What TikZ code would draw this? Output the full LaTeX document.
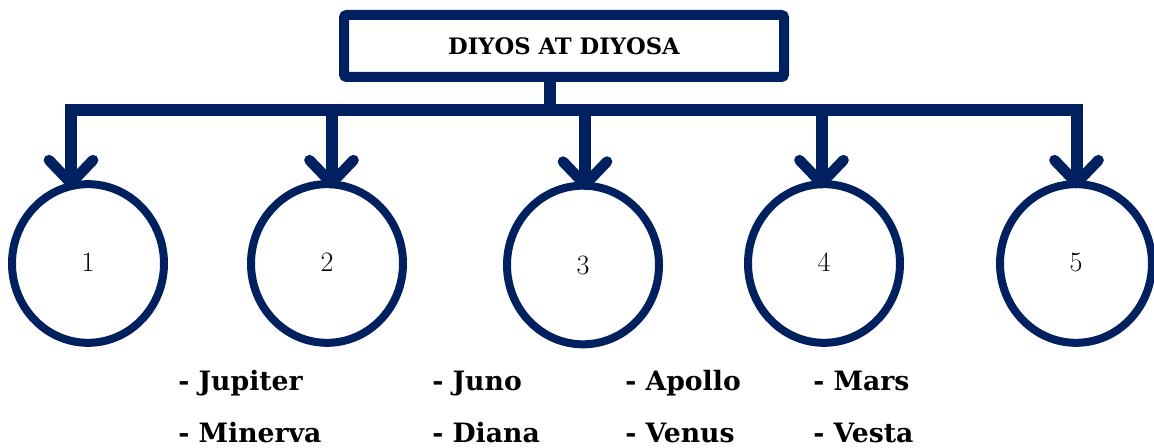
\documentclass[tikz,border=0pt]{standalone}
\usepackage{fontspec}
\usetikzlibrary{shapes.geometric}
\newfontfamily\slabfont{DejaVu Serif}
\definecolor{navy}{HTML}{002060}
\begin{document}
\begin{tikzpicture}[x=0.75pt,y=-0.75pt,
 link/.style={draw=navy,line width=9pt,line join=miter},
 barb/.style={draw=navy,line width=8pt,line cap=round,line join=round},
 circ/.style={ellipse,draw=navy,line width=6pt,minimum width=114pt,minimum height=119pt,inner sep=0pt,font=\fontsize{21}{24}\selectfont},
 titlebox/.style={draw=navy,line width=7.5pt,rounded corners=2pt,minimum width=330pt,minimum height=46.5pt,inner sep=0pt,font=\slabfont\bfseries\fontsize{17}{19}\selectfont},
 item/.style={anchor=base west,inner sep=0pt,font=\slabfont\bfseries\fontsize{20}{24}\selectfont}]
\useasboundingbox (0,0) rectangle (1154,448);

\node[titlebox] (title) at (564,46) {DIYOS AT DIYOSA};

\node[circ] (c1) at (88,263.5) {\raisebox{2pt}{1}};
\node[circ] (c2) at (327,263.5) {\raisebox{2pt}{2}};
\node[circ] (c3) at (583,265) {3};
\node[circ] (c4) at (824,263.5) {\raisebox{2pt}{4}};
\node[circ] (c5) at (1076,263.5) {\raisebox{2pt}{5}};

\coordinate (d1) at (71,110);
\coordinate (d2) at (331.5,110);
\coordinate (d3) at (585,110);
\coordinate (d4) at (821.5,110);
\coordinate (d5) at (1076.5,110);
\coordinate (dt) at (550,110);

\foreach \i in {1,...,5}{
  \path (d\i |- c\i.north) ++(0,3) coordinate (t\i);
}

\draw[link] (dt |- title.south) -- (dt);
\draw[link] (t1) -- (d1) -- (d5) -- (t5);
\foreach \i in {2,3,4}{
  \draw[link] (d\i) -- (t\i);
}
\foreach \i in {1,...,5}{
  \draw[barb] (t\i) ++(-22,-23) -- (t\i) -- ++(22,-23);
}

\node[item] (n1) at (178,391) {- Jupiter};
\node[item] (n2) at (178,443) {- Minerva};
\node[item] (n3) at (432,391) {- Juno};
\node[item] (n4) at (432,443) {- Diana};
\node[item] (n5) at (625,391) {- Apollo};
\node[item] (n6) at (625,443) {- Venus};
\node[item] (n7) at (813,391) {- Mars};
\node[item] (n8) at (813,443) {- Vesta};
\end{tikzpicture}
\end{document}
